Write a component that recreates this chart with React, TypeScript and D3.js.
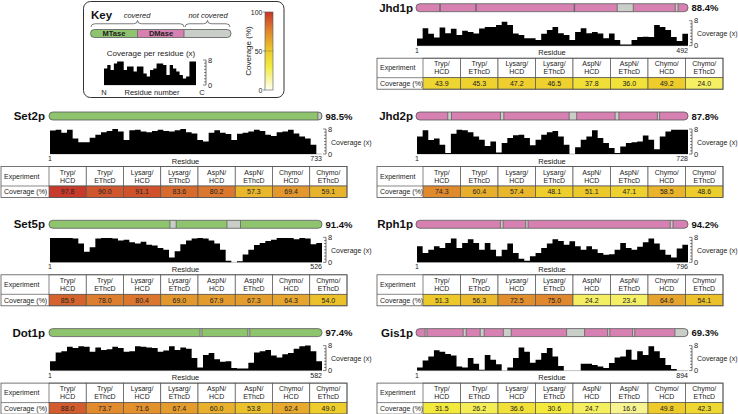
import React from "react";
import * as d3 from "d3";

// ---------- data ----------
const proteins = ["Set2p", "Set5p", "Dot1p", "Jhd1p", "Jhd2p", "Rph1p", "Gis1p"];
const residueCounts = [733, 526, 582, 492, 728, 796, 894];
const sequenceCoverage = [98.5, 91.4, 97.4, 88.4, 87.8, 94.2, 69.3];
const domainClass = ["MTase", "MTase", "MTase", "DMase", "DMase", "DMase", "DMase"];

const uncoveredSet2p = [[722, 733]];
const uncoveredSet5p = [[233, 245], [343, 369]];
const uncoveredDot1p = [[322, 326], [424, 428]];
const uncoveredJhd1p = [[43, 44], [108, 109], [286, 287], [364, 393], [469, 474]];
const uncoveredJhd2p = [[85, 95], [226, 235], [410, 430], [533, 543], [646, 652]];
const uncoveredRph1p = [[247, 255], [321, 328], [744, 752]];
const uncoveredGis1p = [[30, 36], [155, 165], [211, 224], [287, 313], [495, 554], [630, 637], [712, 719], [851, 894]];

const profileSet2p = [7.5, 7.8, 6.8, 7.8, 5.0, 3.8, 3.8, 5.2, 6.2, 7.0, 7.4, 8.0, 7.2, 4.5, 7.6, 7.8, 7.2, 7.0, 7.4, 7.8, 7.4, 7.2, 7.6, 8.0, 7.0, 6.6, 4.5, 4.0, 6.8, 7.6, 6.8, 6.4, 4.5, 6.5, 6.8, 7.2, 7.8, 7.4, 6.2, 5.8, 7.0, 7.2, 7.8, 6.6, 5.6, 5.0, 3.0, 0];
const profileSet5p = [7.8, 7.8, 7.8, 7.8, 7.6, 6.0, 3.4, 4.8, 7.6, 7.8, 7.8, 7.6, 7.0, 7.2, 6.4, 6.0, 6.6, 5.6, 5.4, 4.6, 4.0, 1.5, 3.5, 5.8, 7.0, 7.6, 7.8, 7.6, 7.0, 6.0, 4.0, 0.5, 0, 0.3, 2.5, 4.0, 5.5, 6.2, 6.8, 7.2, 7.8, 7.8, 7.8, 7.4, 7.8, 7.6, 5.8, 6.2];
const profileDot1p = [3.0, 5.8, 6.2, 7.6, 7.2, 7.8, 7.6, 6.0, 7.4, 6.6, 6.8, 7.6, 7.2, 6.0, 6.2, 7.8, 7.6, 7.4, 7.2, 6.0, 6.4, 7.8, 6.6, 7.4, 7.0, 4.0, 1.0, 5.0, 5.6, 3.6, 2.8, 3.0, 0.8, 0.7, 0.7, 2.5, 5.8, 6.2, 6.6, 4.8, 4.2, 5.2, 5.6, 7.0, 7.8, 8.0, 6.2, 3.0];
const profileJhd1p = [2.3, 5.6, 3.8, 2.6, 5.8, 4.0, 5.4, 3.4, 4.8, 4.4, 3.9, 5.5, 6.0, 6.0, 6.6, 7.7, 6.6, 3.9, 3.4, 2.4, 2.4, 1.8, 3.8, 5.0, 6.0, 4.0, 3.4, 1.8, 4.4, 5.6, 4.0, 4.4, 3.9, 2.4, 3.9, 1.8, 0.4, 0.4, 1.8, 2.8, 2.9, 2.8, 6.6, 6.0, 5.0, 2.8, 1.5, 3.8];
const profileJhd2p = [5.6, 7.6, 4.5, 5.0, 3.0, 0.3, 6.5, 7.8, 7.6, 7.0, 5.6, 4.6, 2.6, 4.0, 0.5, 3.5, 5.1, 6.0, 6.2, 5.1, 2.8, 4.6, 6.2, 7.0, 7.4, 5.6, 3.0, 0, 2.2, 4.6, 5.6, 7.6, 5.1, 3.5, 1.9, 0.3, 2.4, 3.5, 3.8, 4.0, 5.9, 4.6, 1.5, 5.6, 7.2, 7.8, 7.8, 7.8];
const profileRph1p = [5.1, 3.0, 4.0, 5.1, 4.6, 6.2, 7.6, 4.6, 6.2, 7.4, 6.2, 4.0, 6.2, 4.0, 1.9, 4.0, 6.0, 3.0, 1.1, 0.5, 1.9, 3.0, 4.6, 6.0, 7.4, 6.8, 5.6, 6.7, 5.1, 4.0, 5.1, 4.2, 3.0, 2.4, 2.6, 4.0, 6.2, 4.6, 4.0, 5.0, 6.4, 7.6, 6.0, 4.0, 2.4, 1.5, 4.4, 5.6];
const profileGis1p = [1.0, 3.2, 4.5, 6.5, 6.0, 5.3, 4.8, 1.3, 1.0, 4.0, 2.2, 0.3, 5.0, 3.5, 2.0, 0, 1.0, 4.0, 7.4, 6.0, 2.5, 3.5, 5.6, 7.2, 4.5, 1.5, 0, 0, 0, 2.2, 2.2, 1.8, 1.3, 0.8, 2.4, 4.2, 4.5, 6.7, 3.5, 6.2, 5.0, 7.8, 6.2, 4.0, 1.8, 0.5, 0, 0];
const profileKey = [5.3, 6.4, 4.8, 6.9, 7.5, 7.5, 4.8, 5.9, 5.9, 4.3, 5.9, 5.9, 3.7, 2.7, 4.8, 5.3, 6.9, 6.9, 6.4, 3.2, 6.4, 5.3, 4.3, 3.2, 2.1, 2.7, 7.5, 7.5];

const experimentLabels = ["Tryp/HCD", "Tryp/EThcD", "Lysarg/HCD", "Lysarg/EThcD", "AspN/HCD", "AspN/EThcD", "Chymo/HCD", "Chymo/EThcD"];
const tableSet2p = [97.8, 90.0, 91.1, 83.6, 80.2, 57.3, 69.4, 59.1];
const tableSet5p = [85.9, 78.0, 80.4, 69.0, 67.9, 67.3, 64.3, 54.0];
const tableDot1p = [88.0, 73.7, 71.6, 67.4, 60.0, 53.8, 62.4, 49.0];
const tableJhd1p = [43.9, 45.3, 47.2, 46.5, 37.8, 36.0, 49.2, 24.0];
const tableJhd2p = [74.3, 60.4, 57.4, 48.1, 51.1, 47.1, 58.5, 48.6];
const tableRph1p = [51.3, 56.3, 72.5, 75.0, 24.2, 23.4, 64.6, 54.1];
const tableGis1p = [31.5, 26.2, 36.6, 30.6, 24.7, 16.6, 49.8, 42.3];

const colorStops = [0, 15, 30, 50, 75, 100];
const colorRange = ["#FFFFF2", "#F8F49A", "#F3EB3E", "#EDCB2B", "#E0882E", "#C6342C"];

const uncovered = [uncoveredSet2p, uncoveredSet5p, uncoveredDot1p, uncoveredJhd1p, uncoveredJhd2p, uncoveredRph1p, uncoveredGis1p];
const profiles = [profileSet2p, profileSet5p, profileDot1p, profileJhd1p, profileJhd2p, profileRph1p, profileGis1p];
const tables = [tableSet2p, tableSet5p, tableDot1p, tableJhd1p, tableJhd2p, tableRph1p, tableGis1p];

// ---------- layout ----------
const W = 738;
const H = 414;
const FONT = "'Liberation Sans', Arial, Helvetica, sans-serif";
const GREEN = "#8FC46F";
const PINK = "#D681B1";
const GREY = "#C9CEC9";
const EDGE = "#555";

const columns = [
  { titleX: 45, barX0: 49, barX1: 322, tableX0: 1, first: 48, tableX1: 347 },
  { titleX: 413, barX0: 416, barX1: 688, tableX0: 377, first: 46, tableX1: 723 },
];
const placement = [
  { col: 0, row: 1 },
  { col: 0, row: 2 },
  { col: 0, row: 3 },
  { col: 1, row: 0 },
  { col: 1, row: 1 },
  { col: 1, row: 2 },
  { col: 1, row: 3 },
];
const rowY = (r: number) => 7.7 + 108.3 * r;

const color = d3.scaleLinear<string>().domain(colorStops).range(colorRange).interpolate(d3.interpolateRgb);

function CoverageAxis({ x, y }: { x: number; y: d3.ScaleLinear<number, number> }) {
  const ticks = d3.range(0, 9);
  return (
    <g>
      <line x1={x} x2={x} y1={y(0)} y2={y(8)} stroke="#333" strokeWidth={0.7} />
      {ticks.map((t) => (
        <line key={t} x1={x} x2={x - (t === 0 || t === 8 ? 3 : 2)} y1={y(t)} y2={y(t)} stroke="#333" strokeWidth={0.6} />
      ))}
      <text x={x + 2} y={y(8) + 2.5} fontSize={7.5} fontFamily={FONT} fill="#222">8</text>
      <text x={x + 2} y={y(0) + 2.5} fontSize={7.5} fontFamily={FONT} fill="#222">0</text>
    </g>
  );
}

function Profile({ values, x0, x1, base, top }: { values: number[]; x0: number; x1: number; base: number; top: number }) {
  const n = values.length;
  const x = d3.scaleLinear().domain([0, n]).range([x0, x1]);
  const y = d3.scaleLinear().domain([0, 8]).range([base, top]);
  const area = d3
    .area<number>()
    .x((_, i) => x(i))
    .y0(y(0))
    .y1((d) => y(d))
    .curve(d3.curveStepAfter);
  const data = [...values, values[n - 1]];
  return (
    <g>
      <line x1={x0} x2={x1} y1={base} y2={base} stroke="#999" strokeWidth={0.6} />
      <path d={area(data) || ""} fill="#000" />
    </g>
  );
}

function Section({ idx }: { idx: number }) {
  const { col, row } = placement[idx];
  const c = columns[col];
  const T = rowY(row);
  const len = residueCounts[idx];
  const bx = d3.scaleLinear().domain([0, len]).range([c.barX0, c.barX1]);
  const barTop = T - 4;
  const barH = 8;
  const clipId = `clip-${idx}`;
  const base = T + 38;
  const top = T + 13;
  const y = d3.scaleLinear().domain([0, 8]).range([base, top]);
  const tTop = T + 50.5;
  const hdrH = 19.5;
  const valH = 11.5;
  const cw = (c.tableX1 - c.tableX0 - c.first) / experimentLabels.length;
  const fill = domainClass[idx] === "MTase" ? GREEN : PINK;
  return (
    <g>
      <text x={c.titleX} y={T + 4} textAnchor="end" fontSize={11.5} fontWeight="bold" fontFamily={FONT} fill="#111">
        {proteins[idx]}
      </text>
      <defs>
        <clipPath id={clipId}>
          <rect x={c.barX0} y={barTop} width={c.barX1 - c.barX0} height={barH} rx={3.8} />
        </clipPath>
      </defs>
      <g clipPath={`url(#${clipId})`}>
        <rect x={c.barX0} y={barTop} width={c.barX1 - c.barX0} height={barH} fill={fill} />
        {uncovered[idx].map(([s, e], i) => (
          <g key={i}>
            <rect x={bx(s)} y={barTop} width={Math.max(0.6, bx(e) - bx(s))} height={barH} fill={GREY} />
            <line x1={bx(s)} x2={bx(s)} y1={barTop} y2={barTop + barH} stroke={EDGE} strokeWidth={0.7} />
            <line x1={bx(e)} x2={bx(e)} y1={barTop} y2={barTop + barH} stroke={EDGE} strokeWidth={0.7} />
          </g>
        ))}
      </g>
      <rect x={c.barX0} y={barTop} width={c.barX1 - c.barX0} height={barH} rx={3.8} fill="none" stroke={EDGE} strokeWidth={0.8} />
      <text x={c.barX1 + 3.5} y={T + 3.5} fontSize={9.5} fontWeight="bold" fontFamily={FONT} fill="#111">
        {sequenceCoverage[idx].toFixed(1)}%
      </text>

      <Profile values={profiles[idx]} x0={c.barX0 + 1} x1={c.barX1} base={base} top={top} />
      <CoverageAxis x={c.barX1 + 4} y={y} />
      <text x={c.barX1 + 9} y={T + 28.5} fontSize={7} fontFamily={FONT} fill="#222">Coverage (x)</text>
      <text x={c.barX0 + 1} y={T + 45} fontSize={7} fontFamily={FONT} fill="#222" textAnchor="middle">1</text>
      <text x={c.barX1} y={T + 45} fontSize={7} fontFamily={FONT} fill="#222" textAnchor="end">{len}</text>
      <text x={(c.barX0 + c.barX1) / 2} y={T + 47.5} fontSize={7.5} fontFamily={FONT} fill="#222" textAnchor="middle">Residue</text>

      {/* table */}
      <rect x={c.tableX0} y={tTop} width={c.first} height={hdrH + valH} fill="#fff" />
      <text x={c.tableX0 + 3} y={tTop + hdrH / 2 + 2.5} fontSize={7} fontFamily={FONT} fill="#222">Experiment</text>
      <text x={c.tableX0 + 3} y={tTop + hdrH + valH / 2 + 2.5} fontSize={7} fontFamily={FONT} fill="#222">Coverage (%)</text>
      {experimentLabels.map((lab, j) => {
        const x0 = c.tableX0 + c.first + j * cw;
        const [a, b] = lab.split("/");
        const v = tables[idx][j];
        return (
          <g key={j}>
            <rect x={x0} y={tTop} width={cw} height={hdrH} fill="#fff" stroke={EDGE} strokeWidth={0.7} />
            <text x={x0 + cw / 2} y={tTop + 8} fontSize={7} fontFamily={FONT} fill="#222" textAnchor="middle">{a + "/"}</text>
            <text x={x0 + cw / 2} y={tTop + 16} fontSize={7} fontFamily={FONT} fill="#222" textAnchor="middle">{b}</text>
            <rect x={x0} y={tTop + hdrH} width={cw} height={valH} fill={color(v)} stroke={EDGE} strokeWidth={0.7} />
            <text x={x0 + cw / 2} y={tTop + hdrH + valH / 2 + 2.5} fontSize={7} fontFamily={FONT} fill="#222" textAnchor="middle">{v.toFixed(1)}</text>
          </g>
        );
      })}
      <rect x={c.tableX0} y={tTop} width={c.tableX1 - c.tableX0} height={hdrH + valH} fill="none" stroke={EDGE} strokeWidth={0.8} />
      <line x1={c.tableX0} x2={c.tableX0 + c.first} y1={tTop + hdrH} y2={tTop + hdrH} stroke={EDGE} strokeWidth={0.7} />
    </g>
  );
}

function brace(x0: number, x1: number, yTop: number, yBot: number) {
  const mid = (x0 + x1) / 2;
  const ym = (yTop + yBot) / 2;
  return `M${x0},${yBot} Q${x0},${ym} ${x0 + 4},${ym} L${mid - 4},${ym} Q${mid},${ym} ${mid},${yTop} Q${mid},${ym} ${mid + 4},${ym} L${x1 - 4},${ym} Q${x1},${ym} ${x1},${yBot}`;
}

function Key() {
  const ky = d3.scaleLinear().domain([0, 8]).range([85, 60]);
  const cb = d3.scaleLinear().domain([0, 100]).range([90, 12]);
  const stops = d3.range(0, 101, 5);
  return (
    <g>
      <rect x={83.5} y={1.5} width={200.5} height={96} rx={7} fill="#fff" stroke="#333" strokeWidth={1} />
      <text x={91} y={19} fontSize={11.5} fontWeight="bold" fontFamily={FONT} fill="#111">Key</text>
      <text x={137} y={17.5} fontSize={7.5} fontStyle="italic" fontFamily={FONT} fill="#222" textAnchor="middle">covered</text>
      <text x={208} y={17.5} fontSize={7.5} fontStyle="italic" fontFamily={FONT} fill="#222" textAnchor="middle">not covered</text>
      <path d={brace(91, 184, 20.5, 27)} fill="none" stroke="#444" strokeWidth={0.7} />
      <path d={brace(185, 230, 20.5, 27)} fill="none" stroke="#444" strokeWidth={0.7} />
      <defs>
        <clipPath id="keyclip">
          <rect x={90.5} y={29.5} width={140.5} height={8} rx={3.8} />
        </clipPath>
        <linearGradient id="cbgrad" x1="0" y1="1" x2="0" y2="0">
          {stops.map((s) => (
            <stop key={s} offset={`${s}%`} stopColor={color(s)} />
          ))}
        </linearGradient>
      </defs>
      <g clipPath="url(#keyclip)">
        <rect x={90.5} y={29.5} width={47} height={8} fill={GREEN} />
        <rect x={137.5} y={29.5} width={46.5} height={8} fill={PINK} />
        <rect x={184} y={29.5} width={47} height={8} fill={GREY} />
        <line x1={137.5} x2={137.5} y1={29.5} y2={37.5} stroke={EDGE} strokeWidth={0.7} />
        <line x1={184} x2={184} y1={29.5} y2={37.5} stroke={EDGE} strokeWidth={0.7} />
      </g>
      <rect x={90.5} y={29.5} width={140.5} height={8} rx={3.8} fill="none" stroke={EDGE} strokeWidth={0.8} />
      <text x={114} y={36} fontSize={7.5} fontWeight="bold" fontFamily={FONT} fill="#222" textAnchor="middle">MTase</text>
      <text x={161} y={36} fontSize={7.5} fontWeight="bold" fontFamily={FONT} fill="#222" textAnchor="middle">DMase</text>
      <text x={151} y={56} fontSize={8} fontFamily={FONT} fill="#222" textAnchor="middle">Coverage per residue (x)</text>
      <Profile values={profileKey} x0={104} x1={196} base={85} top={60} />
      <CoverageAxis x={206} y={ky} />
      <text x={104} y={95} fontSize={7.5} fontFamily={FONT} fill="#222" textAnchor="middle">N</text>
      <text x={152} y={95} fontSize={7.5} fontFamily={FONT} fill="#222" textAnchor="middle">Residue number</text>
      <text x={202} y={95} fontSize={7.5} fontFamily={FONT} fill="#222" textAnchor="middle">C</text>

      <rect x={265} y={cb(100)} width={8} height={cb(0) - cb(100)} fill="url(#cbgrad)" stroke="#555" strokeWidth={0.6} />
      <line x1={265} x2={273} y1={cb(50)} y2={cb(50)} stroke="#555" strokeWidth={0.6} strokeDasharray="1.2,1" />
      {[0, 50, 100].map((t) => (
        <g key={t}>
          <line x1={263} x2={265} y1={cb(t)} y2={cb(t)} stroke="#555" strokeWidth={0.6} />
          <text x={262.5} y={cb(t) + 2.5} fontSize={7} fontFamily={FONT} fill="#222" textAnchor="end">{t}</text>
        </g>
      ))}
      <text transform={`translate(251,${cb(50)}) rotate(-90)`} fontSize={8} fontFamily={FONT} fill="#222" textAnchor="middle">Coverage (%)</text>
    </g>
  );
}

export default function App() {
  return (
    <svg width={W} height={H} viewBox={`0 0 ${W} ${H}`} style={{ position: "absolute", left: 0, top: 0, background: "#fff" }}>
      <rect x={0} y={0} width={W} height={H} fill="#fff" />
      <Key />
      {proteins.map((_, i) => (
        <Section key={i} idx={i} />
      ))}
    </svg>
  );
}
